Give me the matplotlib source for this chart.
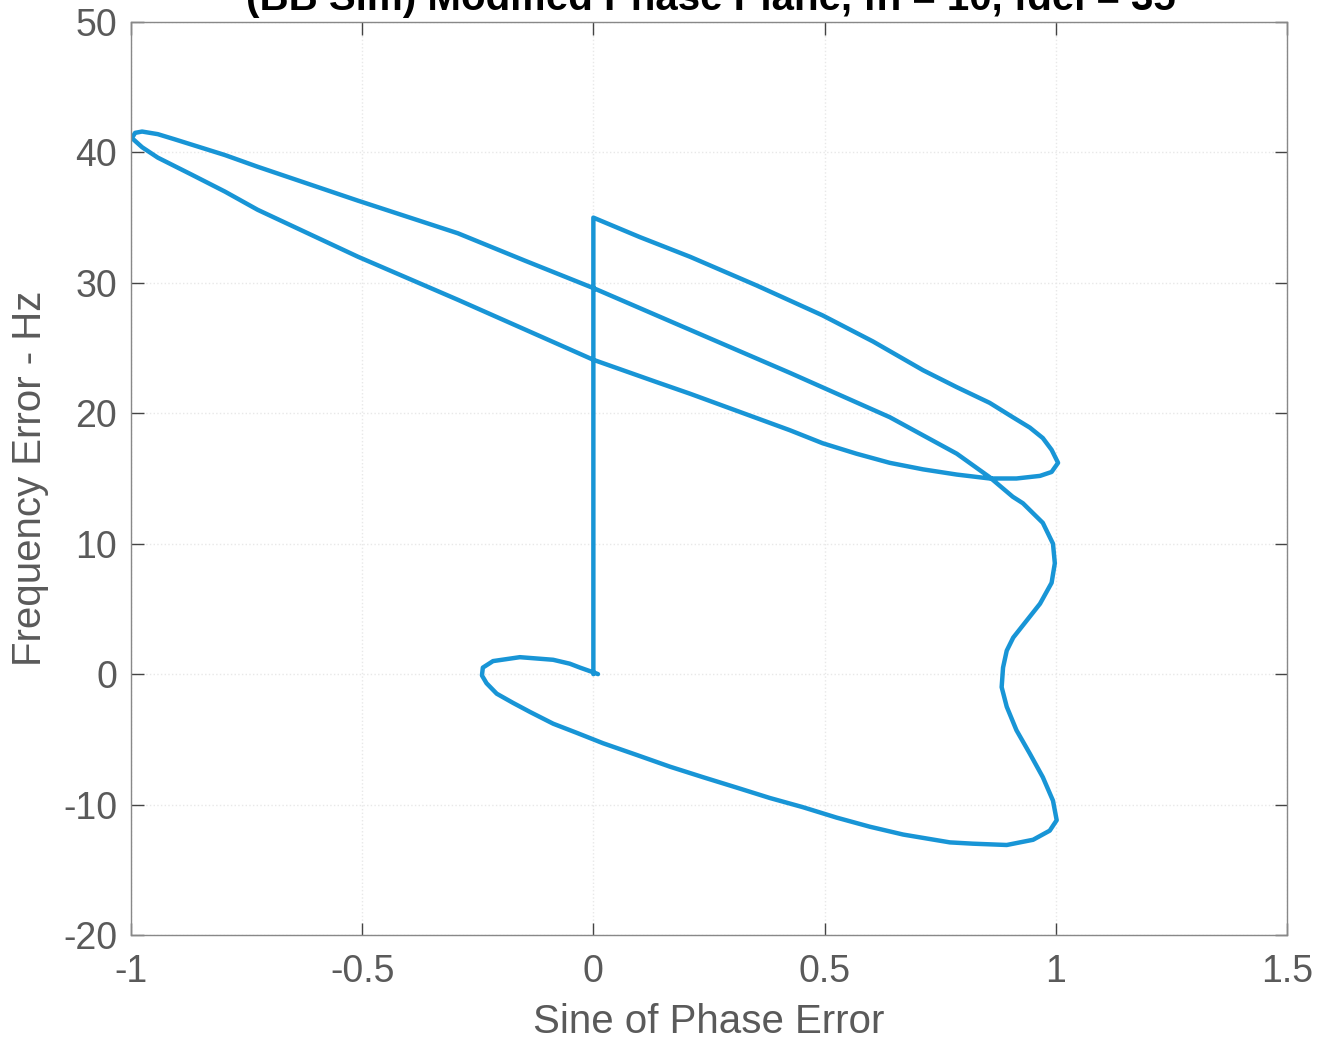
import matplotlib
matplotlib.use("Agg")
import matplotlib.pyplot as plt

# traced phase-plane trajectory: sine of phase error vs frequency error (Hz)
sin_err = [
    0.0, 0.0,
    0.101, 0.209, 0.353, 0.496, 0.605, 0.713, 0.786, 0.857, 0.907, 0.944,
    0.972, 0.991, 1.005, 0.991, 0.966, 0.915,
    0.857, 0.786, 0.713, 0.641, 0.569, 0.496, 0.425, 0.317, 0.209, 0.136,
    0.064, 0.0,
    -0.293, -0.509, -0.726, -0.797, -0.869, -0.942, -0.976, -0.998,
    -0.991, -0.976, -0.942, -0.905, -0.869, -0.797, -0.726, -0.509,
    -0.293, -0.148, 0.0,
    0.209, 0.425, 0.641, 0.786, 0.857, 0.907,
    0.929, 0.972, 0.994, 0.998, 0.991, 0.966, 0.937, 0.908, 0.894,
    0.886, 0.883, 0.894, 0.915, 0.944, 0.972, 0.994, 1.002, 0.987,
    0.951, 0.894, 0.821, 0.771, 0.670, 0.598, 0.526, 0.453, 0.382, 0.310,
    0.237, 0.166, 0.094, 0.021, -0.036, -0.087, -0.137, -0.174, -0.209,
    -0.231, -0.241, -0.239, -0.217, -0.159, -0.087, -0.051, -0.029,
    0.003, 0.01,
]
freq_err = [
    0.0, 35.0,
    33.5, 32.0, 29.8, 27.5, 25.5, 23.3, 22.0, 20.8, 19.7, 18.9,
    18.1, 17.2, 16.2, 15.5, 15.2, 15.0,
    15.0, 15.3, 15.7, 16.2, 16.9, 17.7, 18.7, 20.1, 21.5, 22.4,
    23.3, 24.1,
    28.7, 32.0, 35.6, 37.0, 38.3, 39.6, 40.4, 41.1,
    41.5, 41.6, 41.4, 41.0, 40.6, 39.8, 38.9, 36.3,
    33.8, 31.7, 29.6,
    26.4, 23.1, 19.7, 16.9, 15.1, 13.6,
    13.1, 11.6, 10.0, 8.5, 7.0, 5.4, 4.1, 2.8, 1.8,
    0.5, -1.0, -2.5, -4.3, -6.1, -7.9, -9.7, -11.2, -12.0,
    -12.7, -13.1, -13.0, -12.9, -12.3, -11.7, -11.0, -10.2, -9.5, -8.7,
    -7.9, -7.1, -6.2, -5.3, -4.5, -3.8, -2.9, -2.2, -1.5,
    -0.7, -0.1, 0.5, 1.0, 1.3, 1.1, 0.8, 0.5,
    0.1, 0.0,
]
x_ticks = [-1, -0.5, 0, 0.5, 1, 1.5]
x_labels = ["-1", "-0.5", "0", "0.5", "1", "1.5"]
y_ticks = [-20, -10, 0, 10, 20, 30, 40, 50]

plt.rcParams["font.family"] = ["Liberation Sans", "DejaVu Sans"]
plt.rcParams["axes.unicode_minus"] = False
txt = "#5a5a5a"

fig = plt.figure(figsize=(13.19, 10.42), dpi=100)
ax = fig.add_axes([0.0993, 0.1027, 0.8764, 0.8762])

ax.plot(sin_err, freq_err, color="#1895d6", linewidth=3.2,
        solid_joinstyle="round", solid_capstyle="round")

ax.set_xlim(-1, 1.5)
ax.set_ylim(-20, 50)
ax.set_xticks(x_ticks)
ax.set_xticklabels(x_labels)
ax.set_yticks(y_ticks)
ax.grid(True, color="#e8e8e8", linewidth=1, linestyle=":")
ax.tick_params(direction="in", length=9, width=1, color="#444444",
               labelsize=27, labelcolor=txt, top=True, right=True)
ax.tick_params(axis="x", pad=14)
ax.tick_params(axis="y", pad=10)
for s in ax.spines.values():
    s.set_color("#888888")
    s.set_linewidth(1)

ax.set_xlabel("Sine of Phase Error", fontsize=29, color=txt, labelpad=9)
ax.set_ylabel("Frequency Error - Hz", fontsize=29, color=txt, labelpad=10)

# title sits partly above the canvas, as in the source
fig.text(0.539, 0.990, "(BB Sim) Modified Phase Plane, fn = 10, fdel = 35",
         ha="center", va="baseline", fontsize=29, fontweight="bold", color="black")

fig.savefig("out.png", dpi=100)
